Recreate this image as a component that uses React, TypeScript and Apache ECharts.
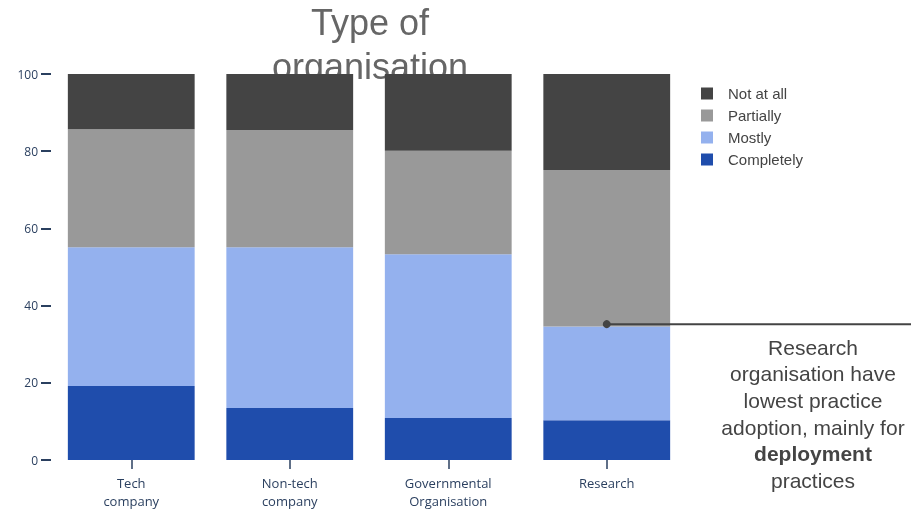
import React, { useEffect, useRef } from 'react';
import * as echarts from 'echarts';

// Share of practices adopted, per type of organisation (stacked to 100%)
const categories = ['Tech\ncompany', 'Non-tech\ncompany', 'Governmental\nOrganisation', 'Research'];
const completely = [19.2, 13.5, 10.9, 10.3];
const mostly = [35.9, 41.6, 42.4, 24.3];
const partially = [30.6, 30.4, 26.8, 40.5];
const notAtAll = [14.3, 14.5, 19.9, 24.9];

const legendOrder = ['Not at all', 'Partially', 'Mostly', 'Completely'];

// Callout anchored on the Research bar
const calloutCategory = 'Research';
const calloutValue = 35.2;
const calloutText =
  'Research\norganisation have\nlowest practice\nadoption, mainly for\n{b|deployment}\npractices';

const AXIS_COLOR = '#2a3f5f';
const SANS = '"Liberation Sans", Arial, Helvetica, sans-serif';

export default function App() {
  const ref = useRef<HTMLDivElement>(null);

  useEffect(() => {
    const chart = echarts.init(ref.current!, null, { renderer: 'svg' });

    const barSeries = (name: string, data: number[], color: string) => ({
      name,
      type: 'bar',
      stack: 'total',
      data,
      barCategoryGap: '20%',
      itemStyle: { color },
      emphasis: { disabled: true },
    });

    chart.setOption({
      animation: false,
      title: {
        text: 'Type of\norganisation',
        left: 370,
        top: 0,
        textAlign: 'center',
        padding: 0,
        z: 0,
        textStyle: {
          fontFamily: SANS,
          fontSize: 36,
          fontWeight: 'normal',
          lineHeight: 44,
          color: '#666666',
        },
      },
      legend: {
        orient: 'vertical',
        left: 701,
        top: 86,
        padding: 0,
        itemWidth: 12,
        itemHeight: 12,
        itemGap: 7,
        icon: 'rect',
        data: legendOrder,
        selectedMode: false,
        textStyle: {
          fontFamily: SANS,
          fontSize: 15,
          color: '#444444',
          padding: [0, 0, 0, 10],
        },
      },
      grid: { left: 52, top: 74, width: 634, height: 387 },
      xAxis: {
        type: 'category',
        data: categories,
        offset: 2,
        axisLine: { show: false },
        axisTick: {
          show: true,
          alignWithLabel: true,
          length: 9,
          lineStyle: { color: AXIS_COLOR, width: 1.5 },
        },
        axisLabel: {
          fontFamily: '"Open Sans", sans-serif',
          fontSize: 13,
          lineHeight: 18,
          color: AXIS_COLOR,
          margin: 12,
        },
      },
      yAxis: {
        type: 'value',
        min: 0,
        max: 100,
        interval: 20,
        offset: 1,
        splitLine: { show: false },
        axisLine: { show: false },
        axisTick: {
          show: true,
          length: 10,
          lineStyle: { color: AXIS_COLOR, width: 2 },
        },
        axisLabel: {
          fontFamily: '"Open Sans", sans-serif',
          fontSize: 12,
          color: AXIS_COLOR,
          margin: 13,
        },
      },
      series: [
        barSeries('Completely', completely, '#1f4dac'),
        barSeries('Mostly', mostly, '#94b1ee'),
        barSeries('Partially', partially, '#999999'),
        barSeries('Not at all', notAtAll, '#444444'),
      ],
    });

    const [px, py] = chart.convertToPixel({ gridIndex: 0 }, [calloutCategory, calloutValue]) as number[];

    chart.setOption({
      graphic: [
        {
          type: 'line',
          z: 100,
          shape: { x1: px, y1: py, x2: 911, y2: py },
          style: { stroke: '#444444', lineWidth: 2 },
        },
        {
          type: 'circle',
          z: 101,
          shape: { cx: px, cy: py, r: 4 },
          style: { fill: '#444444' },
        },
        {
          type: 'text',
          z: 100,
          x: 813,
          y: 334,
          style: {
            text: calloutText,
            align: 'center',
            verticalAlign: 'top',
            fontFamily: SANS,
            fontSize: 21,
            lineHeight: 26.6,
            fill: '#444444',
            rich: {
              b: {
                fontFamily: SANS,
                fontSize: 21,
                fontWeight: 'bold',
                lineHeight: 26.6,
                fill: '#444444',
              },
            },
          },
        },
      ],
    });

    return () => chart.dispose();
  }, []);

  return (
    <div
      ref={ref}
      style={{ position: 'fixed', left: 0, top: 0, width: 920, height: 510 }}
    />
  );
}
